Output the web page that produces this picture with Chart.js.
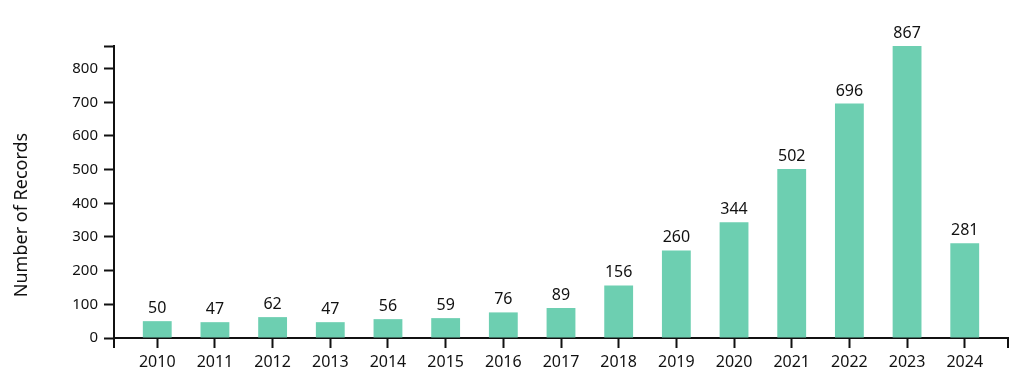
<!DOCTYPE html>
<html>
<head>
<meta charset="utf-8">
<script src="https://cdn.jsdelivr.net/npm/chart.js@4.4.1/dist/chart.umd.min.js"></script>
<style>
  html, body { margin: 0; padding: 0; background: #fff; }
  #wrap { width: 1024px; height: 390px; }
</style>
</head>
<body>
<div id="wrap"><canvas id="chart" width="1024" height="390"></canvas></div>
<script>
const years = [2010, 2011, 2012, 2013, 2014, 2015, 2016, 2017, 2018, 2019, 2020, 2021, 2022, 2023, 2024];
const records = [50, 47, 62, 47, 56, 59, 76, 89, 156, 260, 344, 502, 696, 867, 281];
const yTicks = [0, 100, 200, 300, 400, 500, 600, 700, 800];
const yTitle = 'Number of Records';

const barColor = '#6dcfb1';
const inkColor = '#111';
const fontFamily = '"Noto Sans", "Open Sans", sans-serif';
const yMax = Math.max(...records);

// value labels over each bar
const valueLabels = {
  id: 'valueLabels',
  afterDatasetsDraw(chart) {
    const ctx = chart.ctx;
    const meta = chart.getDatasetMeta(0);
    ctx.save();
    ctx.font = '16px ' + fontFamily;
    ctx.fillStyle = inkColor;
    ctx.textAlign = 'center';
    ctx.textBaseline = 'alphabetic';
    meta.data.forEach((bar, i) => {
      ctx.fillText(String(records[i]), bar.x, bar.y - 8);
    });
    ctx.restore();
  }
};

// outer ticks at both ends of the x axis + y axis title
const axisExtras = {
  id: 'axisExtras',
  afterDraw(chart) {
    const ctx = chart.ctx;
    const x = chart.scales.x;
    ctx.save();
    ctx.strokeStyle = inkColor;
    ctx.lineWidth = 2;
    ctx.beginPath();
    ctx.moveTo(x.left, x.top);
    ctx.lineTo(x.left, x.top + 10);
    ctx.moveTo(x.right, x.top);
    ctx.lineTo(x.right, x.top + 10);
    ctx.stroke();

    ctx.translate(27, 215);
    ctx.rotate(-Math.PI / 2);
    ctx.font = '18px ' + fontFamily;
    ctx.fillStyle = inkColor;
    ctx.textAlign = 'center';
    ctx.textBaseline = 'alphabetic';
    ctx.fillText(yTitle, 0, 0);
    ctx.restore();
  }
};

new Chart(document.getElementById('chart'), {
  type: 'bar',
  data: {
    labels: years,
    datasets: [{
      data: records,
      backgroundColor: barColor,
      borderWidth: 0,
      categoryPercentage: 1,
      barPercentage: 0.5
    }]
  },
  options: {
    responsive: false,
    animation: false,
    layout: { padding: { left: 0, right: 16, top: 46, bottom: 0 } },
    plugins: {
      legend: { display: false },
      tooltip: { enabled: false }
    },
    scales: {
      x: {
        type: 'linear',
        offset: false,
        min: years[0] - 0.75,
        max: years[years.length - 1] + 0.75,
        afterBuildTicks: scale => { scale.ticks = years.map(v => ({ value: v })); },
        afterFit: scale => { scale.height = 52; },
        grid: { offset: false, drawOnChartArea: false, tickLength: 10, tickWidth: 2, color: inkColor },
        border: { display: true, color: inkColor, width: 2 },
        ticks: {
          color: inkColor,
          font: { family: fontFamily, size: 16 },
          padding: 5,
          maxRotation: 0,
          autoSkip: false,
          callback: v => String(v)
        }
      },
      y: {
        min: 0,
        max: yMax,
        afterBuildTicks: scale => { scale.ticks = yTicks.concat([yMax]).map(v => ({ value: v })); },
        afterFit: scale => { scale.width = 114; },
        grid: { drawOnChartArea: false, tickLength: 10, tickWidth: 2, color: inkColor },
        border: { display: true, color: inkColor, width: 2 },
        ticks: {
          color: inkColor,
          font: { family: fontFamily, size: 15 },
          padding: 6,
          autoSkip: false,
          callback: v => (yTicks.includes(v) ? String(v) : '')
        }
      }
    }
  },
  plugins: [valueLabels, axisExtras]
});
</script>
</body>
</html>
